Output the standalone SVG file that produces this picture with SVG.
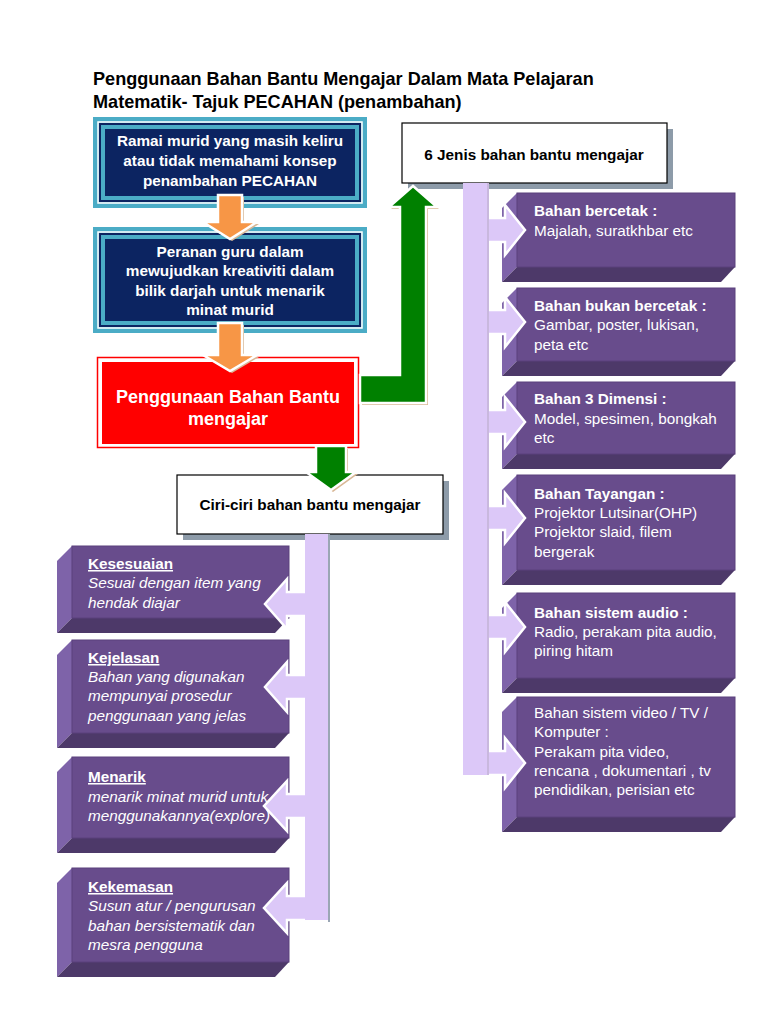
<svg xmlns="http://www.w3.org/2000/svg" width="768" height="1024" viewBox="0 0 768 1024">
<style>
text{font-family:"Liberation Sans",Arial,sans-serif;}
.title{font-size:18.1px;font-weight:bold;fill:#000;}
.bw{font-size:15.3px;font-weight:bold;fill:#fff;text-anchor:middle;}
.rw{font-size:18px;font-weight:bold;fill:#fff;text-anchor:middle;}
.bk{font-size:15.3px;font-weight:bold;fill:#000;text-anchor:middle;}
.ph{font-size:15.3px;font-weight:bold;fill:#fff;}
.pt{font-size:15.3px;fill:#fff;}
.lh{font-size:15.3px;font-weight:bold;fill:#fff;text-decoration:underline;}
.li{font-size:15.3px;font-style:italic;fill:#fff;}
.front{fill:#684C8C;stroke:#5A407C;stroke-width:1;}
.side{fill:#7E63A9;}
.bottom{fill:#4D3969;}
.outerblue{fill:#4BACC6;}
.navy{fill:#0C2461;}
.shadow{fill:#8D9BA9;}
.wbox{fill:#fff;stroke:#000;stroke-width:1.2;}
.lav{fill:#DCC8F8;stroke:#fff;stroke-width:2.5;stroke-linejoin:miter;}
.lavs{fill:#DCC8F8;}
.tan{fill:#D9B896;}
.orange{fill:#F79646;stroke:#fff;stroke-width:2.5;}
.green{fill:#008000;stroke:#fff;stroke-width:2.5;}
</style>

<g id="title">
<text class="title" x="93" y="85">Penggunaan Bahan Bantu Mengajar Dalam Mata Pelajaran</text>
<text class="title" x="93" y="108">Matematik- Tajuk PECAHAN (penambahan)</text>
</g>

<g id="box-ramai">
<rect class="outerblue" x="93" y="117" width="274" height="91"/>
<rect x="98" y="122" width="264" height="81" fill="#4BACC6" stroke="#fff" stroke-width="1.5"/>
<rect x="100" y="124" width="260" height="77" fill="none" stroke="#0C2461" stroke-width="2"/>
<rect class="navy" x="105" y="129" width="250" height="67"/>
<text class="bw" x="230" y="146">Ramai murid yang masih keliru</text>
<text class="bw" x="230" y="166">atau tidak memahami konsep</text>
<text class="bw" x="230" y="186">penambahan PECAHAN</text>
</g>

<g id="box-peranan">
<rect class="outerblue" x="93" y="227" width="274" height="106"/>
<rect x="98" y="232" width="264" height="96" fill="#4BACC6" stroke="#fff" stroke-width="1.5"/>
<rect x="100" y="234" width="260" height="92" fill="none" stroke="#0C2461" stroke-width="2"/>
<rect class="navy" x="105" y="239" width="250" height="82"/>
<text class="bw" x="230" y="257">Peranan guru dalam</text>
<text class="bw" x="230" y="276">mewujudkan kreativiti dalam</text>
<text class="bw" x="230" y="296">bilik darjah untuk menarik</text>
<text class="bw" x="230" y="315">minat murid</text>
</g>

<g id="box-penggunaan">
<rect x="97.5" y="357.5" width="261" height="90" fill="#fff" stroke="#FF0000" stroke-width="1.5"/>
<rect x="102" y="362" width="252" height="82" fill="#FF0000"/>
<text class="rw" x="228" y="403">Penggunaan Bahan Bantu</text>
<text class="rw" x="228" y="425">mengajar</text>
</g>

<g id="box-jenis">
<rect class="shadow" x="408" y="129" width="265" height="60"/>
<rect class="wbox" x="402" y="123" width="265" height="60"/>
<text class="bk" x="534" y="160">6 Jenis bahan bantu mengajar</text>
</g>

<g id="box-ciri">
<rect class="shadow" x="183" y="481" width="266" height="59"/>
<rect class="wbox" x="177" y="475" width="266" height="59"/>
<text class="bk" x="310" y="510">Ciri-ciri bahan bantu mengajar</text>
</g>

<!-- right purple boxes -->
<g id="r-bercetak">
<polygon class="side" points="502,208 517,193 517,267 502,282"/>
<polygon class="bottom" points="502,282 517,267 735,267 721,282"/>
<rect class="front" x="517" y="193" width="218" height="74"/>
<text class="ph" x="534" y="216">Bahan bercetak :</text>
<text class="pt" x="534" y="236">Majalah, suratkhbar etc</text>
</g>
<g id="r-bukan">
<polygon class="side" points="502,303 517,288 517,361 502,376"/>
<polygon class="bottom" points="502,376 517,361 735,361 721,376"/>
<rect class="front" x="517" y="288" width="218" height="73"/>
<text class="ph" x="534" y="311">Bahan bukan bercetak :</text>
<text class="pt" x="534" y="330">Gambar, poster, lukisan,</text>
<text class="pt" x="534" y="350">peta etc</text>
</g>
<g id="r-3d">
<polygon class="side" points="502,397 517,382 517,454 502,469"/>
<polygon class="bottom" points="502,469 517,454 735,454 721,469"/>
<rect class="front" x="517" y="382" width="218" height="72"/>
<text class="ph" x="534" y="404">Bahan 3 Dimensi  :</text>
<text class="pt" x="534" y="424">Model, spesimen, bongkah</text>
<text class="pt" x="534" y="443">etc</text>
</g>
<g id="r-tayangan">
<polygon class="side" points="502,490 517,475 517,570 502,585"/>
<polygon class="bottom" points="502,585 517,570 735,570 721,585"/>
<rect class="front" x="517" y="475" width="218" height="95"/>
<text class="ph" x="534" y="499">Bahan Tayangan :</text>
<text class="pt" x="534" y="518">Projektor Lutsinar(OHP)</text>
<text class="pt" x="534" y="537">Projektor slaid,  filem</text>
<text class="pt" x="534" y="557">bergerak</text>
</g>
<g id="r-audio">
<polygon class="side" points="502,608 517,593 517,678 502,693"/>
<polygon class="bottom" points="502,693 517,678 735,678 721,693"/>
<rect class="front" x="517" y="593" width="218" height="85"/>
<text class="ph" x="534" y="618">Bahan sistem audio :</text>
<text class="pt" x="534" y="637">Radio, perakam pita audio,</text>
<text class="pt" x="534" y="656">piring hitam</text>
</g>
<g id="r-video">
<polygon class="side" points="502,712 517,697 517,817 502,832"/>
<polygon class="bottom" points="502,832 517,817 735,817 721,832"/>
<rect class="front" x="517" y="697" width="218" height="120"/>
<text class="pt" x="534" y="718">Bahan sistem video / TV /</text>
<text class="pt" x="534" y="737">Komputer  :</text>
<text class="pt" x="534" y="757">Perakam pita video,</text>
<text class="pt" x="534" y="776">rencana , dokumentari , tv</text>
<text class="pt" x="534" y="795">pendidikan, perisian etc</text>
</g>

<!-- left purple boxes -->
<g id="l-kesesuaian">
<polygon class="side" points="57,561 72,546 72,618 57,633"/>
<polygon class="bottom" points="57,633 72,618 289,618 275,633"/>
<rect class="front" x="72" y="546" width="217" height="72"/>
<text class="lh" x="88" y="569">Kesesuaian</text>
<text class="li" x="88" y="588">Sesuai dengan item yang</text>
<text class="li" x="88" y="608">hendak diajar</text>
</g>
<g id="l-kejelasan">
<polygon class="side" points="57,655 72,640 72,733 57,748"/>
<polygon class="bottom" points="57,748 72,733 289,733 275,748"/>
<rect class="front" x="72" y="640" width="217" height="93"/>
<text class="lh" x="88" y="663">Kejelasan</text>
<text class="li" x="88" y="682">Bahan yang digunakan</text>
<text class="li" x="88" y="701">mempunyai prosedur</text>
<text class="li" x="88" y="721">penggunaan yang jelas</text>
</g>
<g id="l-menarik">
<polygon class="side" points="57,772 72,757 72,838 57,853"/>
<polygon class="bottom" points="57,853 72,838 289,838 275,853"/>
<rect class="front" x="72" y="757" width="217" height="81"/>
<text class="lh" x="88" y="782">Menarik</text>
<text class="li" x="88" y="802">menarik minat murid untuk</text>
<text class="li" x="88" y="821">menggunakannya(explore)</text>
</g>
<g id="l-kekemasan">
<polygon class="side" points="57,883 72,868 72,962 57,977"/>
<polygon class="bottom" points="57,977 72,962 289,962 275,977"/>
<rect class="front" x="72" y="868" width="217" height="94"/>
<text class="lh" x="88" y="892">Kekemasan</text>
<text class="li" x="88" y="911">Susun atur / pengurusan</text>
<text class="li" x="88" y="931">bahan bersistematik dan</text>
<text class="li" x="88" y="950">mesra pengguna</text>
</g>

<g id="connectors">
<!-- green L arrow up -->
<path class="tan" d="M362,377 H402 V209 H391 L415,188 L439,209 H428 V405 H362 Z"/>
<path class="green" d="M360,375 H400 V207 H389 L413,186 L437,207 H426 V403 H360 Z"/>
<!-- orange arrows -->
<polygon class="tan" points="220,197 244,197 244,224 259,224 232,241 205,224 220,224"/>
<polygon class="orange" points="218,195 242,195 242,222 257,222 230,239 203,222 218,222"/>
<polygon class="tan" points="220,325 244,325 244,357 259,357 232,373 205,357 220,357"/>
<polygon class="orange" points="218,323 242,323 242,355 257,355 230,371 203,355 218,355"/>
<!-- green down -->
<polygon class="tan" points="318,449 348,449 348,474 358,474 333,492 308,474 318,474"/>
<polygon class="green" points="316,446 346,446 346,472 356,472 331,490 306,472 316,472"/>
<!-- right spine arrows -->
<polygon class="lav" points="480,218 505,218 505,205 525,230 505,255 505,242 480,242"/>
<polygon class="lav" points="480,310 505,310 505,297 525,322 505,347 505,334 480,334"/>
<polygon class="lav" points="480,410 505,410 505,397 525,422 505,447 505,434 480,434"/>
<polygon class="lav" points="480,506 505,506 505,493 525,518 505,543 505,530 480,530"/>
<polygon class="lav" points="480,615 505,615 505,602 525,627 505,652 505,639 480,639"/>
<polygon class="lav" points="463,751 505,751 505,738 525,763 505,788 505,775 463,775"/>
<rect x="487" y="183" width="2" height="592" fill="#C9B8DE"/>
<rect class="lavs" x="463" y="183" width="24" height="592"/>
<!-- left spine arrows -->
<polygon class="lav" points="312,592 287,592 287,579 265,604 287,629 287,616 312,616"/>
<polygon class="lav" points="312,675 287,675 287,662 265,687 287,712 287,699 312,699"/>
<polygon class="lav" points="312,794 287,794 287,781 264,806 287,831 287,818 312,818"/>
<polygon class="lav" points="328,896 287,896 287,883 264,908 287,933 287,920 328,920"/>
<rect x="328" y="534" width="2" height="388" fill="#9AA6B4"/>
<rect class="lavs" x="305" y="534" width="23" height="386"/>
</g>
</svg>
